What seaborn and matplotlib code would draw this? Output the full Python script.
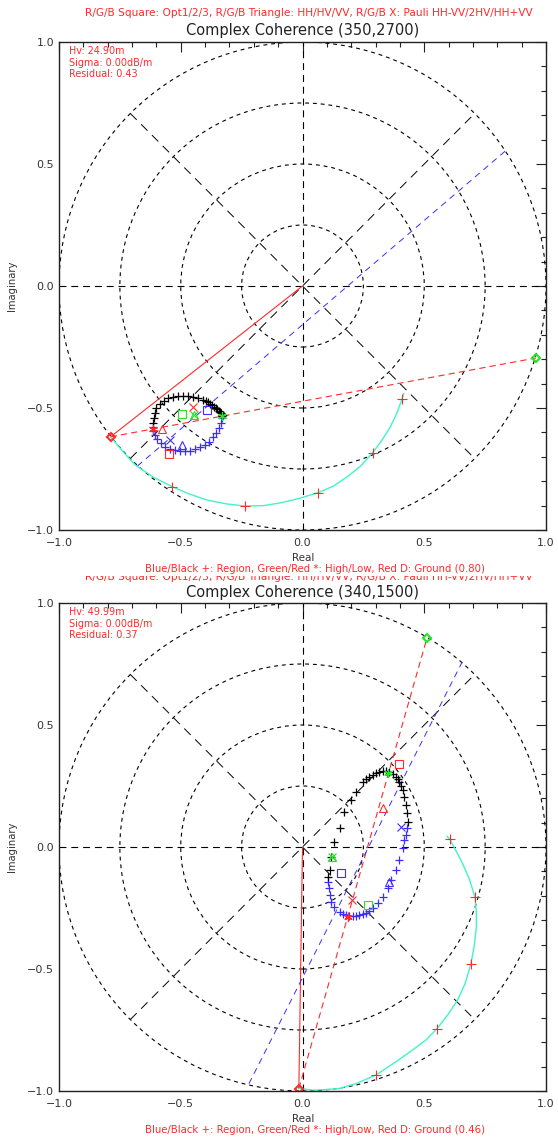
import numpy as np
import matplotlib
matplotlib.use("Agg")
import matplotlib.pyplot as plt
import seaborn as sns
from matplotlib.ticker import MultipleLocator
from matplotlib.patches import Circle
from matplotlib.transforms import Bbox

# ---------------- shared text ----------------
header_text = "R/G/B Square: Opt1/2/3, R/G/B Triangle: HH/HV/VV, R/G/B X: Pauli HH-VV/2HV/HH+VV"
x_label = "Real"
y_label = "Imaginary"
tick_values = [-1.0, -0.5, 0.0, 0.5, 1.0]
tick_labels = ["\u22121.0", "\u22120.5", "0.0", "0.5", "1.0"]
circle_radii = [0.25, 0.5, 0.75, 1.0]

# ---------------- top panel data (350,2700) ----------------
top_title = "Complex Coherence (350,2700)"
top_stats = ["Hv: 24.90m", "Sigma: 0.00dB/m", "Residual: 0.43"]
top_caption = "Blue/Black +: Region, Green/Red *: High/Low, Red D: Ground (0.80)"

top_black_x = [-0.613, -0.611, -0.607, -0.600, -0.586, -0.570, -0.552, -0.532, -0.511, -0.491,
               -0.470, -0.450, -0.429, -0.409, -0.398, -0.388, -0.379, -0.370, -0.363, -0.357,
               -0.350, -0.343, -0.338, -0.333, -0.331, -0.329]
top_black_y = [-0.563, -0.542, -0.522, -0.501, -0.484, -0.470, -0.460, -0.454, -0.451, -0.450,
               -0.451, -0.454, -0.460, -0.467, -0.472, -0.477, -0.482, -0.488, -0.494, -0.499,
               -0.505, -0.511, -0.516, -0.522, -0.527, -0.533]
top_blue_x = [-0.616, -0.613, -0.607, -0.596, -0.582, -0.566, -0.545, -0.525, -0.504, -0.484,
              -0.463, -0.443, -0.422, -0.402, -0.384, -0.368, -0.354, -0.343, -0.333, -0.329,
              -0.327]
top_blue_y = [-0.577, -0.593, -0.611, -0.628, -0.645, -0.659, -0.668, -0.673, -0.676, -0.676,
              -0.675, -0.669, -0.661, -0.652, -0.638, -0.620, -0.601, -0.581, -0.560, -0.542,
              -0.529]
top_curve_x = [-0.788, -0.737, -0.686, -0.612, -0.536, -0.466, -0.393, -0.312, -0.235, -0.159,
               -0.086, -0.012, 0.064, 0.127, 0.185, 0.239, 0.288, 0.327, 0.361, 0.387, 0.409, 0.416]
top_curve_y = [-0.618, -0.679, -0.734, -0.784, -0.822, -0.852, -0.877, -0.893, -0.902, -0.900,
               -0.888, -0.870, -0.847, -0.820, -0.781, -0.738, -0.683, -0.631, -0.577, -0.522, -0.463, -0.440]
top_curve_mark_x = [-0.536, -0.235, 0.064, 0.288, 0.409]
top_curve_mark_y = [-0.822, -0.902, -0.847, -0.683, -0.463]
top_square_x = [-0.548, -0.493, -0.392]   # R, G, B
top_square_y = [-0.689, -0.525, -0.508]
top_tri_x = [-0.575, -0.447, -0.493]
top_tri_y = [-0.587, -0.529, -0.652]
top_cross_x = [-0.450, -0.447, -0.545]
top_cross_y = [-0.495, -0.527, -0.631]
top_high = (-0.331, -0.533)
top_low = (-0.613, -0.587)
top_ground = (-0.788, -0.618)
top_far = (0.959, -0.295)
top_blue_line_x = [-0.678, 0.835]
top_blue_line_y = [-0.738, 0.555]

# ---------------- bottom panel data (340,1500) ----------------
bot_title = "Complex Coherence (340,1500)"
bot_stats = ["Hv: 49.99m", "Sigma: 0.00dB/m", "Residual: 0.37"]
bot_caption = "Blue/Black +: Region, Green/Red *: High/Low, Red D: Ground (0.46)"

bot_black_x = [0.432, 0.428, 0.425, 0.418, 0.411, 0.404, 0.398, 0.391, 0.384, 0.371, 0.357, 0.343,
               0.329, 0.316, 0.302, 0.289, 0.275, 0.261, 0.247, 0.220, 0.199, 0.172, 0.152, 0.131,
               0.118, 0.111, 0.104]
bot_black_y = [0.104, 0.138, 0.172, 0.206, 0.234, 0.252, 0.268, 0.279, 0.288, 0.300, 0.309, 0.312,
               0.313, 0.309, 0.302, 0.296, 0.288, 0.279, 0.268, 0.227, 0.193, 0.145, 0.077, 0.022,
               -0.040, -0.094, -0.122]
bot_blue_x = [0.104, 0.108, 0.111, 0.118, 0.131, 0.152, 0.165, 0.179, 0.193, 0.206, 0.220, 0.234,
              0.248, 0.261, 0.275, 0.288, 0.309, 0.329, 0.350, 0.363, 0.384, 0.398, 0.411, 0.418,
              0.425, 0.428]
bot_blue_y = [-0.142, -0.169, -0.197, -0.224, -0.245, -0.265, -0.273, -0.279, -0.282, -0.283,
              -0.282, -0.280, -0.275, -0.269, -0.261, -0.251, -0.231, -0.204, -0.169, -0.135,
              -0.094, -0.053, -0.005, 0.029, 0.049, 0.077]
bot_curve_x = [-0.015, 0.05, 0.149, 0.22, 0.302, 0.384, 0.452, 0.507, 0.551, 0.596, 0.637, 0.668,
               0.691, 0.705, 0.714, 0.714, 0.708, 0.684, 0.657, 0.630, 0.605, 0.593]
bot_curve_y = [-0.99, -0.997, -0.99, -0.97, -0.934, -0.880, -0.832, -0.791, -0.746, -0.689, -0.627,
               -0.559, -0.481, -0.408, -0.327, -0.265, -0.204, -0.128, -0.067, -0.015, 0.031, 0.045]
bot_curve_mark_x = [0.302, 0.551, 0.691, 0.708, 0.605]
bot_curve_mark_y = [-0.934, -0.746, -0.481, -0.204, 0.031]
bot_square_x = [0.398, 0.270, 0.158]
bot_square_y = [0.340, -0.238, -0.108]
bot_tri_x = [0.329, 0.122, 0.357]
bot_tri_y = [0.161, -0.040, -0.142]
bot_cross_x = [0.204, 0.122, 0.404]
bot_cross_y = [-0.217, -0.040, 0.081]
bot_high = (0.350, 0.305)
bot_low = (0.186, -0.286)
bot_ground = (-0.015, -0.990)
bot_far = (0.511, 0.856)
bot_blue_line_x = [-0.220, 0.655]
bot_blue_line_y = [-0.970, 0.757]

# ---------------- style ----------------
RED = "#ff2a2a"
GREEN = "#22e622"
BLUE = "#3d2cff"
CYAN = "#3ff5c8"
TXT = "#333333"
RGB = [RED, GREEN, BLUE]

sns.set_style("white")
plt.rcParams["font.family"] = ["DejaVu Sans"]
plt.rcParams["lines.scale_dashes"] = False

W, H = 558, 1137
fig = plt.figure(figsize=(W / 100, H / 100), dpi=100)
fig.patch.set_facecolor("white")


def fx(px):
    return px / W


def fy(py):
    return 1 - py / H


def line(ax, xs, ys, color, ls="-", lw=0.9):
    sns.lineplot(x=xs, y=ys, ax=ax, sort=False, estimator=None, color=color,
                 linewidth=lw, linestyle=ls)


def marks(ax, xs, ys, color, marker, size, mew=0.8):
    sns.lineplot(x=xs, y=ys, ax=ax, sort=False, estimator=None, color=color,
                 linestyle="none", marker=marker, markersize=size,
                 markeredgewidth=mew, markeredgecolor=color, markerfacecolor="none")


def panel(top_px, title, stats, caption, bx, by, ux, uy, cx, cy, cmx, cmy,
          sqx, sqy, trx, try_, crx, cry, high, low, ground, far, blx, bly, clipped_header):
    ax = fig.add_axes([fx(59), fy(top_px + 488), 487 / W, 488 / H])
    ax.set_xlim(-1, 1)
    ax.set_ylim(-1, 1)
    ax.set_facecolor("white")
    # guides
    for r in circle_radii:
        ax.add_patch(Circle((0, 0), r, fill=False, ec="black", lw=0.8,
                            ls=(0, (2.8, 2.8)), zorder=1))
    d = 0.7071
    ax.plot([-d, d], [-d, d], color="black", lw=0.7, ls=(0, (6.5, 4.5)), zorder=1)
    ax.plot([-d, d], [d, -d], color="black", lw=0.7, ls=(0, (6.5, 4.5)), zorder=1)
    ax.axhline(0, color="black", lw=0.8, ls=(0, (5, 3.5)), zorder=1)
    ax.axvline(0, color="black", lw=0.8, ls=(0, (5, 3.5)), zorder=1)
    # model lines
    line(ax, [0, ground[0]], [0, ground[1]], RED, "-", 0.8)
    line(ax, [ground[0], far[0]], [ground[1], far[1]], RED, (0, (4.5, 3)), 0.8)
    line(ax, blx, bly, BLUE, (0, (4.5, 3.5)), 0.7)
    line(ax, cx, cy, CYAN, "-", 1.0)
    marks(ax, cmx, cmy, RED, "+", 6.5, 0.8)
    # region points
    marks(ax, ux, uy, BLUE, "+", 6.2, 0.9)
    marks(ax, bx, by, "black", "+", 6.2, 0.9)
    # optimal / HH / Pauli
    for i in range(3):
        marks(ax, [sqx[i]], [sqy[i]], RGB[i], "s", 5.5, 0.8)
        marks(ax, [trx[i]], [try_[i]], RGB[i], "^", 6, 0.8)
        marks(ax, [crx[i]], [cry[i]], RGB[i], "x", 5.5, 0.8)
    marks(ax, [high[0]], [high[1]], GREEN, (6, 2, 0), 6, 0.9)
    marks(ax, [low[0]], [low[1]], RED, (6, 2, 0), 6, 0.9)
    marks(ax, [ground[0]], [ground[1]], RED, "D", 4.2, 1.5)
    marks(ax, [far[0]], [far[1]], GREEN, "D", 4.2, 1.5)
    # axes styling
    ax.xaxis.set_major_locator(MultipleLocator(0.5))
    ax.yaxis.set_major_locator(MultipleLocator(0.5))
    ax.xaxis.set_minor_locator(MultipleLocator(0.1))
    ax.yaxis.set_minor_locator(MultipleLocator(0.1))
    ax.set_xticks(tick_values)
    ax.set_yticks(tick_values)
    ax.set_xticklabels(tick_labels)
    ax.set_yticklabels(tick_labels)
    ax.tick_params(which="both", direction="in", top=True, right=True, colors="#222222",
                   labelcolor=TXT, labelsize=8)
    ax.tick_params(which="major", length=7, width=0.8)
    ax.tick_params(which="minor", length=3.6, width=0.8)
    ax.tick_params(axis="x", pad=6)
    ax.tick_params(axis="y", pad=3.5)
    for s in ax.spines.values():
        s.set_color("#222222")
        s.set_linewidth(1.0)
        s.set_visible(True)
    ax.set_xlabel("")
    ax.set_ylabel("")
    # texts
    for k, s in enumerate(stats):
        fig.text(fx(69), fy(top_px + 9 + 11.7 * k), s, color=RED, fontsize=6.9,
                 ha="left", va="center")
    fig.text(fx(303), fy(top_px - 11), title, color="#222222", fontsize=10.5,
             ha="center", va="center")
    if clipped_header:
        t = fig.text(fx(309), fy(top_px - 23), header_text, color=RED, fontsize=7.6,
                     ha="center", va="baseline")
        t.set_clip_box(Bbox.from_extents(0, 0, W, H - (top_px - 27)))
        t.set_clip_on(True)
    else:
        fig.text(fx(309), fy(top_px - 29), header_text, color=RED, fontsize=7.6,
                 ha="center", va="center")
    fig.text(fx(303), fy(top_px + 488 + 28), x_label, color=TXT, fontsize=7.5,
             ha="center", va="center")
    fig.text(fx(315), fy(top_px + 488 + 39), caption, color=RED, fontsize=7.3,
             ha="center", va="center")
    fig.text(fx(12), fy(top_px + 244), y_label, color=TXT, fontsize=7.2,
             ha="center", va="center", rotation=90)
    return ax


panel(42, top_title, top_stats, top_caption, top_black_x, top_black_y, top_blue_x, top_blue_y,
      top_curve_x, top_curve_y, top_curve_mark_x, top_curve_mark_y,
      top_square_x, top_square_y, top_tri_x, top_tri_y, top_cross_x, top_cross_y,
      top_high, top_low, top_ground, top_far, top_blue_line_x, top_blue_line_y, False)
panel(603, bot_title, bot_stats, bot_caption, bot_black_x, bot_black_y, bot_blue_x, bot_blue_y,
      bot_curve_x, bot_curve_y, bot_curve_mark_x, bot_curve_mark_y,
      bot_square_x, bot_square_y, bot_tri_x, bot_tri_y, bot_cross_x, bot_cross_y,
      bot_high, bot_low, bot_ground, bot_far, bot_blue_line_x, bot_blue_line_y, True)

fig.savefig("out.png", dpi=100, facecolor="white")
